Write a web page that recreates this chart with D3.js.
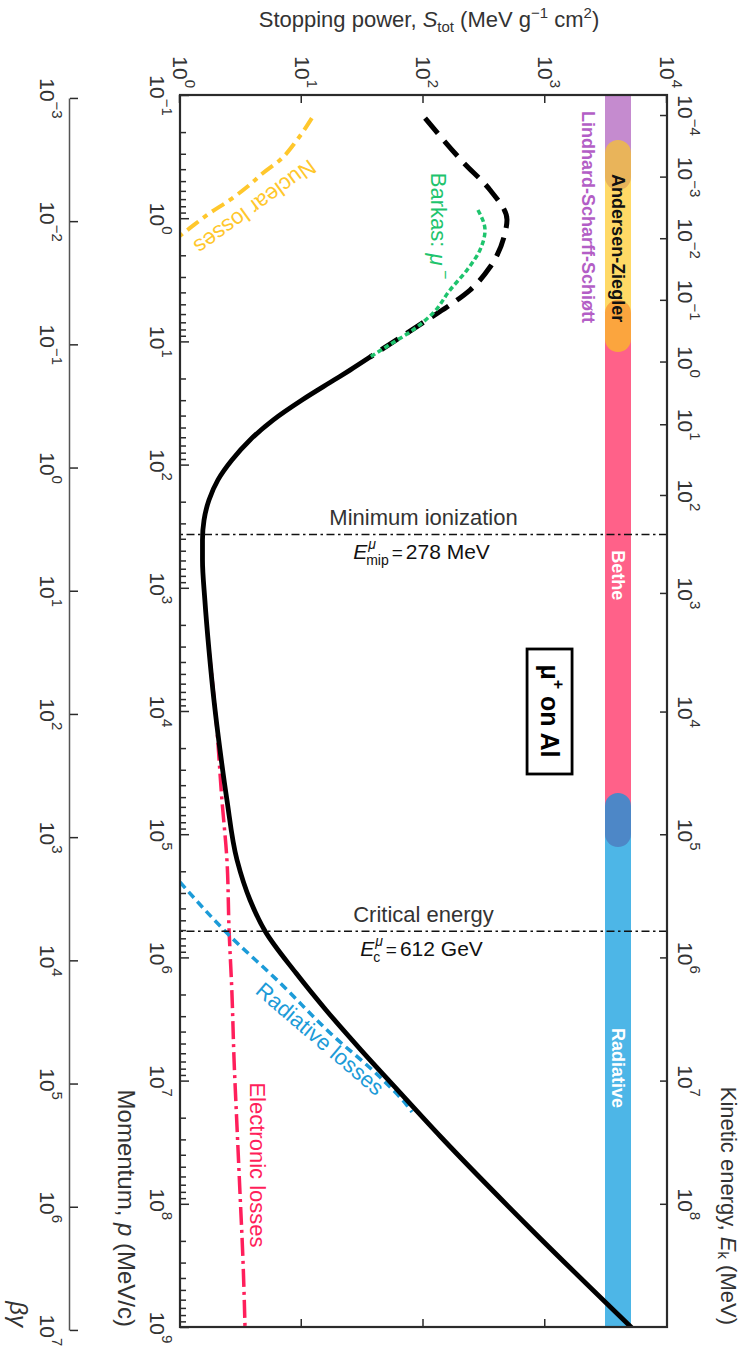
<!DOCTYPE html>
<html><head><meta charset="utf-8">
<script src="https://cdn.jsdelivr.net/npm/d3@7"></script>
<style>
body{margin:0;background:#fff;}
svg{display:block;font-family:"Liberation Sans",Arial,Helvetica,sans-serif;}
</style></head><body>
<svg id="chart" width="751" height="1348"></svg>
<script>
// ---------------- DATA ----------------
const MUON_MASS = 105.658; // MeV/c^2

// Total stopping power, low-energy (dashed) branch: momentum p (MeV/c), S (MeV g^-1 cm^2)
const totalLowP = [0.154, 0.35, 0.59, 1.03, 1.32, 2.49, 3.83, 5.26, 6.7, 9.2, 13.4];
const totalLowS = [103, 211, 352, 485, 467, 352, 241, 156, 107, 65.3, 36.4];
// Total stopping power, solid branch
const totalP = [13.4, 17.1, 20.6, 29.9, 43.5, 63.1, 91.8, 133, 194, 282, 409, 595, 1256, 3200, 8150, 20700, 52800, 162000, 342000, 611000, 1.34e6, 2.67e6, 5.65e6, 1.13e7, 2.87e7, 1.63e8, 1e9];
const totalS = [36.4, 24.9, 18.4, 10.05, 5.81, 3.76, 2.67, 2.05, 1.73, 1.575, 1.53, 1.53, 1.60, 1.73, 1.90, 2.13, 2.43, 2.94, 3.76, 4.99, 8.97, 15.8, 30.7, 58.3, 139, 775, 5060];
// Electronic losses
const elecP = [3200, 11800, 52800, 1.62e5, 5.98e5, 1.94e6, 6.8e6, 2.38e7, 8.17e7, 2.86e8, 1e9];
const elecS = [1.73, 1.98, 2.21, 2.43, 2.53, 2.67, 2.78, 2.94, 3.11, 3.29, 3.42];
// Radiative losses
const radP = [2.45e5, 6.34e5, 1.61e6, 4.11e6, 9.36e6, 1.52e7, 1.8e7];
const radS = [1.0, 2.43, 6.63, 17.1, 43.9, 70.5, 80.5];
// Nuclear losses
const nucP = [0.154, 0.232, 0.337, 0.43, 0.558, 0.711, 0.908, 1.2, 1.39];
const nucS = [12.1, 9.14, 6.63, 4.81, 3.55, 2.57, 1.76, 1.21, 1.0];
// Barkas correction, mu-
const barP = [0.857, 1.25, 1.81, 2.63, 3.83, 5.88, 8.07, 11.1, 13.4];
const barS = [280, 320, 291, 228, 165, 120, 82, 49.2, 36.4];

// Kinetic-energy markers (MeV)
const E_MIP = 278;
const E_CRIT = 612000;

// Regimes (momentum ranges, MeV/c)
const regimeNames = ["Lindhard-Scharff-Schiøtt", "Andersen-Ziegler", "Bethe", "Radiative"];
const regimeFrom = [0.1, 0.4, 8, 80000];
const regimeTo = [0.4, 8, 80000, 1e9];
const overlapFrom = [0.232, 4.6, 46300];
const overlapTo = [0.59, 12.2, 127000];

// Tick exponents
const pExps = [-1, 0, 1, 2, 3, 4, 5, 6, 7, 8, 9];
const sExps = [0, 1, 2, 3, 4];
const eExps = [-4, -3, -2, -1, 0, 1, 2, 3, 4, 5, 6, 7, 8];
const bgExps = [-3, -2, -1, 0, 1, 2, 3, 4, 5, 6, 7];

// ---------------- STYLE ----------------
const C = {
  text: "#333", axis: "#2b2b2b",
  regime: ["#c58bcf", "#ffd966", "#ff6189", "#4db6e7"],
  overlap: ["#e9b45a", "#fba53e", "#4d87c7"],
  lss: "#b35ec6", nuclear: "#ffc72c", barkas: "#1ec46d", rad: "#1c9bd8", elec: "#ff1f5b"
};
const TICK_FS = 21, EXP_FS = 15;

// ---------------- LAYOUT ----------------
const W = 1232, H = 487;       // plot extent in the (unrotated) chart frame
const OX = 667, OY = 95;       // frame origin after rotation
const svg = d3.select("#chart");
const g = svg.append("g").attr("transform", `translate(${OX},${OY}) rotate(90)`);
const toFx = v => OX - v, toFy = u => OY + u;

const x = d3.scaleLog().domain([0.1, 1e9]).range([0, W]);
const y = d3.scaleLog().domain([1, 1e4]).range([H, 0]);
const pFromE = E => Math.sqrt(E * E + 2 * E * MUON_MASS);

g.append("clipPath").attr("id", "clip").append("rect").attr("width", W).attr("height", H);

// ---------------- REGIME BAND ----------------
const BAND_V = 36, BAND_W = 26;
const band = g.append("g");
regimeNames.forEach((n, i) => {
  band.append("rect").attr("x", x(regimeFrom[i])).attr("width", x(regimeTo[i]) - x(regimeFrom[i]))
    .attr("y", BAND_V).attr("height", BAND_W).attr("fill", C.regime[i]);
});
overlapFrom.forEach((p0, i) => {
  band.append("rect").attr("x", x(p0)).attr("width", x(overlapTo[i]) - x(p0))
    .attr("y", BAND_V).attr("height", BAND_W).attr("rx", BAND_W / 2).attr("ry", BAND_W / 2)
    .attr("fill", C.overlap[i]);
});
const bandLabel = (txt, p, fill, v) => g.append("text").attr("x", x(p)).attr("y", v)
  .attr("text-anchor", "middle").attr("dominant-baseline", "central")
  .attr("font-size", 18).attr("font-weight", "bold").attr("fill", fill).text(txt);
bandLabel(regimeNames[1], 1.75, "#111", BAND_V + BAND_W / 2);
bandLabel(regimeNames[2], 790, "#fff", BAND_V + BAND_W / 2);
bandLabel(regimeNames[3], 7.9e6, "#fff", BAND_V + BAND_W / 2);
bandLabel(regimeNames[0], 0.98, C.lss, BAND_V + BAND_W + 17);

// ---------------- CURVES ----------------
const curves = g.append("g").attr("clip-path", "url(#clip)");
const line = d3.line().x(d => x(d[0])).y(d => y(d[1])).curve(d3.curveMonotoneX);
const zipPS = (P, S) => P.map((p, i) => [p, S[i]]);
const draw = (P, S, color, w, dash) => curves.append("path").datum(zipPS(P, S))
  .attr("d", line).attr("fill", "none").attr("stroke", color).attr("stroke-width", w)
  .attr("stroke-dasharray", dash).attr("stroke-linejoin", "round");

draw(elecP, elecS, C.elec, 3.5, "18,5,3,5");
draw(radP, radS, C.rad, 3.5, "8,5");
draw(nucP, nucS, C.nuclear, 4, "14,6,5,6");
draw(totalLowP, totalLowS, "#000", 5, "20,10");
draw(totalP, totalS, "#000", 4.8, null).attr("stroke-linecap", "round");
draw(barP, barS, C.barkas, 3.5, "5,3");

// marker lines
const pMip = pFromE(E_MIP), pCrit = pFromE(E_CRIT);
[pMip, pCrit].forEach(p => g.append("line").attr("x1", x(p)).attr("x2", x(p)).attr("y1", 0).attr("y2", H)
  .attr("stroke", "#111").attr("stroke-width", 1.5).attr("stroke-dasharray", "8,3.5,2.5,3.5"));

// ---------------- AXES ----------------
function expLabel(t, e) {
  t.text(null);
  t.append("tspan").text("10");
  t.append("tspan").attr("font-size", EXP_FS).attr("dy", -12).text(e < 0 ? "\u2212" + (-e) : String(e));
}
function styleAxis(sel, keepDomain) {
  sel.attr("font-size", null).attr("font-family", null);
  if (!keepDomain) sel.select(".domain").remove();
  sel.selectAll(".tick line").attr("stroke", C.axis).attr("stroke-width", 1.5);
  sel.selectAll(".tick text").attr("fill", C.text).attr("font-size", TICK_FS);
}
// momentum (bottom of unrotated frame)
const minorP = [];
pExps.slice(0, -1).forEach(e => { for (let k = 2; k <= 9; k++) minorP.push(k * Math.pow(10, e)); });
g.append("g").attr("transform", `translate(0,${H})`)
  .call(d3.axisBottom(x).tickValues(minorP).tickSize(-6).tickFormat(""))
  .call(s => styleAxis(s));
g.append("g").attr("transform", `translate(0,${H})`)
  .call(d3.axisBottom(x).tickValues(pExps.map(e => Math.pow(10, e))).tickSize(-9).tickPadding(15))
  .call(s => styleAxis(s))
  .call(s => s.selectAll(".tick text").each(function (d, i) { expLabel(d3.select(this), pExps[i]); }));
// beta-gamma axis
const bg = d3.scaleLog().domain([1e-3, 1e7]).range([x(1e-3 * MUON_MASS), x(1e7 * MUON_MASS)]);
g.append("g").attr("transform", `translate(0,${H + 110})`)
  .call(d3.axisBottom(bg).tickValues(bgExps.map(e => Math.pow(10, e))).tickSize(-8).tickSizeOuter(0).tickPadding(15))
  .call(s => styleAxis(s, true))
  .call(s => s.select(".domain").attr("stroke", "#555").attr("stroke-width", 1.5))
  .call(s => s.selectAll(".tick text").each(function (d, i) { expLabel(d3.select(this), bgExps[i]); }));
// stopping power (left of unrotated frame)
g.append("g")
  .call(d3.axisLeft(y).tickValues(sExps.map(e => Math.pow(10, e))).tickSize(-8).tickPadding(7))
  .call(s => styleAxis(s))
  .call(s => s.selectAll(".tick text").each(function (d, i) { expLabel(d3.select(this), sExps[i]); }));
g.append("g").attr("transform", `translate(${W},0)`)
  .call(d3.axisRight(y).tickValues([10, 100, 1000]).tickSize(-8).tickFormat(""))
  .call(s => styleAxis(s));
// kinetic energy (top of unrotated frame)
g.append("g")
  .call(d3.axisTop(x).tickValues(eExps.map(e => pFromE(Math.pow(10, e)))).tickSize(-7).tickPadding(11))
  .call(s => styleAxis(s))
  .call(s => s.selectAll(".tick text").each(function (d, i) { expLabel(d3.select(this), eExps[i]); }));

// frame
g.append("rect").attr("width", W).attr("height", H).attr("fill", "none")
  .attr("stroke", C.axis).attr("stroke-width", 2.2);

// ---------------- TEXT ----------------
// axis titles (rotated with chart)
const mt = g.append("text").attr("x", W).attr("y", H + 53).attr("text-anchor", "end")
  .attr("dominant-baseline", "central").attr("font-size", 24).attr("fill", C.text);
mt.append("tspan").text("Momentum, ");
mt.append("tspan").attr("font-style", "italic").text("p");
mt.append("tspan").text(" (MeV/c)");

const kt = g.append("text").attr("x", W - 2).attr("y", -62).attr("text-anchor", "end")
  .attr("dominant-baseline", "central").attr("font-size", 22).attr("fill", C.text);
kt.append("tspan").text("Kinetic energy, ");
kt.append("tspan").attr("font-style", "italic").text("E");
kt.append("tspan").attr("font-size", 15).attr("dy", 5).text("k");
kt.append("tspan").attr("dy", -5).text(" (MeV)");

g.append("text").attr("x", W).attr("y", H + 162).attr("text-anchor", "end")
  .attr("dominant-baseline", "central").attr("font-size", 24).attr("font-style", "italic")
  .attr("fill", C.text).text("βγ");

// curve labels
const curveLabel = (txt, p, s, rot, fill) => g.append("text")
  .attr("transform", `translate(${x(p)},${y(s)}) rotate(${rot})`)
  .attr("text-anchor", "middle").attr("dominant-baseline", "central")
  .attr("font-size", 22).attr("fill", fill).text(txt);
curveLabel("Nuclear losses", 0.811, 4.13, 54, C.nuclear);
curveLabel("Radiative losses", 4.59e6, 14.1, -49.5, C.rad);
curveLabel("Electronic losses", 4.84e7, 4.29, 0, C.elec);
const bk = curveLabel("Barkas: ", 1.157, 131.6, 0, C.barkas);
bk.append("tspan").attr("font-style", "italic").text("μ");
bk.append("tspan").attr("font-size", 16).attr("dy", -8).text(" \u2212");

// mu+ on Al box
const boxP = 1e4, boxS = 1085;
g.append("rect").attr("x", x(boxP) - 62).attr("y", y(boxS) - 22.5).attr("width", 125).attr("height", 45)
  .attr("fill", "#fff").attr("stroke", "#000").attr("stroke-width", 2.8);
const mu = g.append("text").attr("x", x(boxP)).attr("y", y(boxS)).attr("text-anchor", "middle")
  .attr("dominant-baseline", "central").attr("font-size", 25).attr("font-weight", "bold").attr("fill", "#000");
mu.append("tspan").text("μ");
mu.append("tspan").attr("font-size", 16).attr("dy", -9).text("+");
mu.append("tspan").attr("dy", 9).text(" on Al");

// horizontal (unrotated) texts
const st = svg.append("text").attr("x", 429).attr("y", 27).attr("text-anchor", "middle")
  .attr("font-size", 22).attr("fill", C.text);
st.append("tspan").text("Stopping power, ");
st.append("tspan").attr("font-style", "italic").text("S");
st.append("tspan").attr("font-size", 15).attr("dy", 5).text("tot");
st.append("tspan").attr("dy", -5).text(" (MeV g");
st.append("tspan").attr("font-size", 15).attr("dy", -9).text("\u22121");
st.append("tspan").attr("dy", 9).text(" cm");
st.append("tspan").attr("font-size", 15).attr("dy", -9).text("2");
st.append("tspan").attr("dy", 9).text(")");

const cx = toFx(y(100)) - 2;
function markerText(p, title, sub, value) {
  const ly = toFy(x(p));
  svg.append("text").attr("x", cx + 2).attr("y", ly - 9).attr("text-anchor", "middle")
    .attr("font-size", 22).attr("fill", C.text).text(title);
  const gg = svg.append("g").attr("fill", "#111");
  const tE = gg.append("text").attr("font-size", 21).attr("font-style", "italic").text("E");
  const wE = tE.node().getComputedTextLength();
  const tS = gg.append("text").attr("x", wE + 1).attr("y", -10).attr("font-size", 14).attr("font-style", "italic").text("μ");
  const tB = gg.append("text").attr("x", wE - 1).attr("y", 6).attr("font-size", 14).text(sub);
  const wS = Math.max(tS.node().getComputedTextLength() + 2, tB.node().getComputedTextLength());
  const tEq = gg.append("text").attr("x", wE + wS + 2).attr("font-size", 19).text("=");
  const wEq = tEq.node().getComputedTextLength();
  gg.append("text").attr("x", wE + wS + wEq + 5).attr("font-size", 21).text(value);
  const bb = gg.node().getBBox();
  gg.attr("transform", `translate(${cx - bb.width / 2 - bb.x},${ly + 25})`);
}
markerText(pMip, "Minimum ionization", "mip", E_MIP + " MeV");
markerText(pCrit, "Critical energy", "c", (E_CRIT / 1000) + " GeV");
</script>
</body></html>
